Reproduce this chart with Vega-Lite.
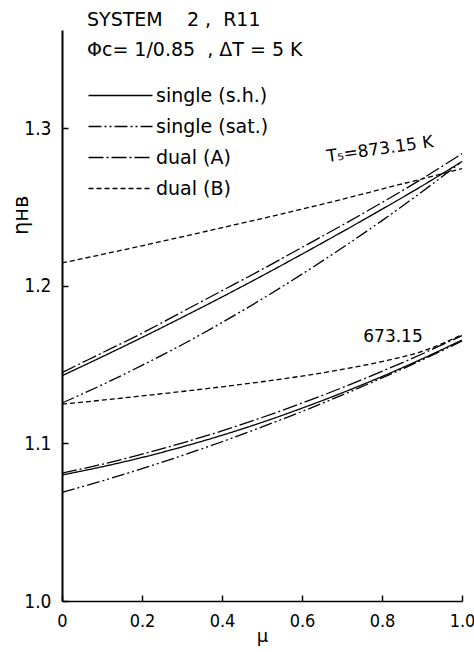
{
  "$schema": "https://vega.github.io/schema/vega-lite/v6.json",
  "width": 400,
  "height": 571,
  "autosize": {"type": "none"},
  "padding": {"left": 62, "top": 30, "right": 12, "bottom": 51},
  "background": "white",
  "config": {
    "view": {"stroke": null},
    "font": "DejaVu Sans",
    "axis": {
      "domainColor": "black",
      "tickColor": "black",
      "labelColor": "black",
      "titleColor": "black",
      "grid": false,
      "labelFont": "Liberation Sans Narrow, DejaVu Sans Condensed",
      "titleFont": "DejaVu Sans",
      "labelFontSize": 19,
      "titleFontWeight": "normal",
      "tickSize": -6,
      "tickWidth": 1.5
    }
  },
  "datasets": {
    "curves": [
      {"series": "single (s.h.)", "group": "873.15", "mu": 0.0, "eta": 1.1430},
      {"series": "single (s.h.)", "group": "873.15", "mu": 0.1, "eta": 1.1550},
      {"series": "single (s.h.)", "group": "873.15", "mu": 0.2, "eta": 1.1673},
      {"series": "single (s.h.)", "group": "873.15", "mu": 0.3, "eta": 1.1800},
      {"series": "single (s.h.)", "group": "873.15", "mu": 0.4, "eta": 1.1930},
      {"series": "single (s.h.)", "group": "873.15", "mu": 0.5, "eta": 1.2064},
      {"series": "single (s.h.)", "group": "873.15", "mu": 0.6, "eta": 1.2202},
      {"series": "single (s.h.)", "group": "873.15", "mu": 0.7, "eta": 1.2343},
      {"series": "single (s.h.)", "group": "873.15", "mu": 0.8, "eta": 1.2487},
      {"series": "single (s.h.)", "group": "873.15", "mu": 0.9, "eta": 1.2635},
      {"series": "single (s.h.)", "group": "873.15", "mu": 1.0, "eta": 1.2790},
      {"series": "dual (A)", "group": "873.15", "mu": 0.0, "eta": 1.1450},
      {"series": "dual (A)", "group": "873.15", "mu": 0.1, "eta": 1.1575},
      {"series": "dual (A)", "group": "873.15", "mu": 0.2, "eta": 1.1700},
      {"series": "dual (A)", "group": "873.15", "mu": 0.3, "eta": 1.1835},
      {"series": "dual (A)", "group": "873.15", "mu": 0.4, "eta": 1.1970},
      {"series": "dual (A)", "group": "873.15", "mu": 0.5, "eta": 1.2105},
      {"series": "dual (A)", "group": "873.15", "mu": 0.6, "eta": 1.2245},
      {"series": "dual (A)", "group": "873.15", "mu": 0.7, "eta": 1.2385},
      {"series": "dual (A)", "group": "873.15", "mu": 0.8, "eta": 1.2530},
      {"series": "dual (A)", "group": "873.15", "mu": 0.9, "eta": 1.2680},
      {"series": "dual (A)", "group": "873.15", "mu": 1.0, "eta": 1.2840},
      {"series": "single (sat.)", "group": "873.15", "mu": 0.0, "eta": 1.1257},
      {"series": "single (sat.)", "group": "873.15", "mu": 0.1, "eta": 1.1372},
      {"series": "single (sat.)", "group": "873.15", "mu": 0.2, "eta": 1.1496},
      {"series": "single (sat.)", "group": "873.15", "mu": 0.3, "eta": 1.1627},
      {"series": "single (sat.)", "group": "873.15", "mu": 0.4, "eta": 1.1768},
      {"series": "single (sat.)", "group": "873.15", "mu": 0.5, "eta": 1.1917},
      {"series": "single (sat.)", "group": "873.15", "mu": 0.6, "eta": 1.2075},
      {"series": "single (sat.)", "group": "873.15", "mu": 0.7, "eta": 1.2241},
      {"series": "single (sat.)", "group": "873.15", "mu": 0.8, "eta": 1.2415},
      {"series": "single (sat.)", "group": "873.15", "mu": 0.9, "eta": 1.2598},
      {"series": "single (sat.)", "group": "873.15", "mu": 1.0, "eta": 1.2790},
      {"series": "dual (B)", "group": "873.15", "mu": 0.0, "eta": 1.2146},
      {"series": "dual (B)", "group": "873.15", "mu": 0.1, "eta": 1.2200},
      {"series": "dual (B)", "group": "873.15", "mu": 0.2, "eta": 1.2255},
      {"series": "dual (B)", "group": "873.15", "mu": 0.3, "eta": 1.2312},
      {"series": "dual (B)", "group": "873.15", "mu": 0.4, "eta": 1.2370},
      {"series": "dual (B)", "group": "873.15", "mu": 0.5, "eta": 1.2428},
      {"series": "dual (B)", "group": "873.15", "mu": 0.6, "eta": 1.2488},
      {"series": "dual (B)", "group": "873.15", "mu": 0.7, "eta": 1.2550},
      {"series": "dual (B)", "group": "873.15", "mu": 0.8, "eta": 1.2615},
      {"series": "dual (B)", "group": "873.15", "mu": 0.9, "eta": 1.2680},
      {"series": "dual (B)", "group": "873.15", "mu": 1.0, "eta": 1.2745},
      {"series": "single (s.h.)", "group": "673.15", "mu": 0.0, "eta": 1.0800},
      {"series": "single (s.h.)", "group": "673.15", "mu": 0.1, "eta": 1.0852},
      {"series": "single (s.h.)", "group": "673.15", "mu": 0.2, "eta": 1.0911},
      {"series": "single (s.h.)", "group": "673.15", "mu": 0.3, "eta": 1.0978},
      {"series": "single (s.h.)", "group": "673.15", "mu": 0.4, "eta": 1.1052},
      {"series": "single (s.h.)", "group": "673.15", "mu": 0.5, "eta": 1.1134},
      {"series": "single (s.h.)", "group": "673.15", "mu": 0.6, "eta": 1.1224},
      {"series": "single (s.h.)", "group": "673.15", "mu": 0.7, "eta": 1.1321},
      {"series": "single (s.h.)", "group": "673.15", "mu": 0.8, "eta": 1.1425},
      {"series": "single (s.h.)", "group": "673.15", "mu": 0.9, "eta": 1.1537},
      {"series": "single (s.h.)", "group": "673.15", "mu": 1.0, "eta": 1.1657},
      {"series": "dual (A)", "group": "673.15", "mu": 0.0, "eta": 1.0812},
      {"series": "dual (A)", "group": "673.15", "mu": 0.1, "eta": 1.0868},
      {"series": "dual (A)", "group": "673.15", "mu": 0.2, "eta": 1.0932},
      {"series": "dual (A)", "group": "673.15", "mu": 0.3, "eta": 1.1003},
      {"series": "dual (A)", "group": "673.15", "mu": 0.4, "eta": 1.1080},
      {"series": "dual (A)", "group": "673.15", "mu": 0.5, "eta": 1.1165},
      {"series": "dual (A)", "group": "673.15", "mu": 0.6, "eta": 1.1256},
      {"series": "dual (A)", "group": "673.15", "mu": 0.7, "eta": 1.1354},
      {"series": "dual (A)", "group": "673.15", "mu": 0.8, "eta": 1.1458},
      {"series": "dual (A)", "group": "673.15", "mu": 0.9, "eta": 1.1568},
      {"series": "dual (A)", "group": "673.15", "mu": 1.0, "eta": 1.1685},
      {"series": "single (sat.)", "group": "673.15", "mu": 0.0, "eta": 1.0690},
      {"series": "single (sat.)", "group": "673.15", "mu": 0.1, "eta": 1.0762},
      {"series": "single (sat.)", "group": "673.15", "mu": 0.2, "eta": 1.0840},
      {"series": "single (sat.)", "group": "673.15", "mu": 0.3, "eta": 1.0923},
      {"series": "single (sat.)", "group": "673.15", "mu": 0.4, "eta": 1.1011},
      {"series": "single (sat.)", "group": "673.15", "mu": 0.5, "eta": 1.1105},
      {"series": "single (sat.)", "group": "673.15", "mu": 0.6, "eta": 1.1203},
      {"series": "single (sat.)", "group": "673.15", "mu": 0.7, "eta": 1.1307},
      {"series": "single (sat.)", "group": "673.15", "mu": 0.8, "eta": 1.1416},
      {"series": "single (sat.)", "group": "673.15", "mu": 0.9, "eta": 1.1530},
      {"series": "single (sat.)", "group": "673.15", "mu": 1.0, "eta": 1.1650},
      {"series": "dual (B)", "group": "673.15", "mu": 0.0, "eta": 1.1250},
      {"series": "dual (B)", "group": "673.15", "mu": 0.1, "eta": 1.1275},
      {"series": "dual (B)", "group": "673.15", "mu": 0.2, "eta": 1.1302},
      {"series": "dual (B)", "group": "673.15", "mu": 0.3, "eta": 1.1330},
      {"series": "dual (B)", "group": "673.15", "mu": 0.4, "eta": 1.1360},
      {"series": "dual (B)", "group": "673.15", "mu": 0.5, "eta": 1.1392},
      {"series": "dual (B)", "group": "673.15", "mu": 0.6, "eta": 1.1428},
      {"series": "dual (B)", "group": "673.15", "mu": 0.7, "eta": 1.1470},
      {"series": "dual (B)", "group": "673.15", "mu": 0.8, "eta": 1.1520},
      {"series": "dual (B)", "group": "673.15", "mu": 0.9, "eta": 1.1585},
      {"series": "dual (B)", "group": "673.15", "mu": 1.0, "eta": 1.1690}
    ],
    "heads": [
      {"text": "SYSTEM\u00a0\u00a0\u00a0\u00a02\u00a0,\u00a0\u00a0R11", "mu": 0.0625, "eta": 1.3689},
      {"text": "Φc= 1/0.85\u00a0\u00a0, ΔT = 5 K", "mu": 0.0625, "eta": 1.3498}
    ],
    "tlabel": [
      {"text": "T₅=873.15 K", "mu": 0.795, "eta": 1.2866}
    ],
    "plabel": [
      {"text": "673.15", "mu": 0.8275, "eta": 1.1675}
    ]
  },
  "encoding": {
    "x": {
      "field": "mu",
      "type": "quantitative",
      "scale": {"domain": [0, 1], "nice": false, "zero": false},
      "axis": {
        "title": "μ",
        "titleFontSize": 18,
        "titlePadding": -3,
        "values": [0, 0.2, 0.4, 0.6, 0.8, 1.0],
        "labelExpr": "datum.value == 0 ? '0' : format(datum.value, '.1f')",
        "labelFontSize": 18,
        "labelPadding": 17,
        "labelDx": {"expr": "0"},
        "domainWidth": 1.5,
        "labelFlush": false,
        "labelOverlap": false
      }
    },
    "y": {
      "field": "eta",
      "type": "quantitative",
      "scale": {"domain": [1.0, 1.3625], "nice": false, "zero": false},
      "axis": {
        "title": "ηʜʙ",
        "titleFontSize": 21,
        "titleX": -41,
        "titleY": 185,
        "titleAlign": "center",
        "titleBaseline": "middle",
        "values": [1.0, 1.1, 1.2, 1.3],
        "format": ".1f",
        "labelPadding": 17,
        "domainWidth": 2,
        "labelFlush": false,
        "labelOverlap": false
      }
    }
  },
  "layer": [
    {
      "data": {"name": "curves"},
      "mark": {"type": "line", "interpolate": "monotone", "color": "black", "strokeWidth": 1.3},
      "encoding": {
        "strokeDash": {
          "field": "series",
          "type": "nominal",
          "scale": {
            "domain": ["single (s.h.)", "single (sat.)", "dual (A)", "dual (B)"],
            "range": [[1, 0], [13, 3, 2, 3, 2, 3], [15, 3, 2, 3], [5, 3]]
          },
          "legend": {
            "title": null,
            "orient": "none",
            "legendX": 49,
            "legendY": 56,
            "padding": 0,
            "symbolType": "M-4,0H4",
            "symbolSize": 256,
            "symbolStrokeColor": "black",
            "symbolStrokeWidth": 1.3,
            "labelFontSize": 19,
            "labelColor": "black",
            "labelOffset": 26,
            "rowPadding": 11,
            "labelLimit": 300
          }
        },
        "detail": {"field": "group"}
      }
    },
    {
      "mark": {"type": "rule", "color": "black", "strokeWidth": 2},
      "encoding": {"x": {"datum": 1}}
    },
    {
      "data": {"name": "heads"},
      "mark": {"type": "text", "align": "left", "baseline": "middle", "fontSize": 19, "color": "black", "clip": false},
      "encoding": {"text": {"field": "text"}}
    },
    {
      "data": {"name": "tlabel"},
      "mark": {"type": "text", "align": "center", "baseline": "middle", "fontSize": 17, "angle": 352, "color": "black"},
      "encoding": {"text": {"field": "text"}}
    },
    {
      "data": {"name": "plabel"},
      "mark": {"type": "text", "align": "center", "baseline": "middle", "fontSize": 17, "color": "black"},
      "encoding": {"text": {"field": "text"}}
    }
  ]
}
